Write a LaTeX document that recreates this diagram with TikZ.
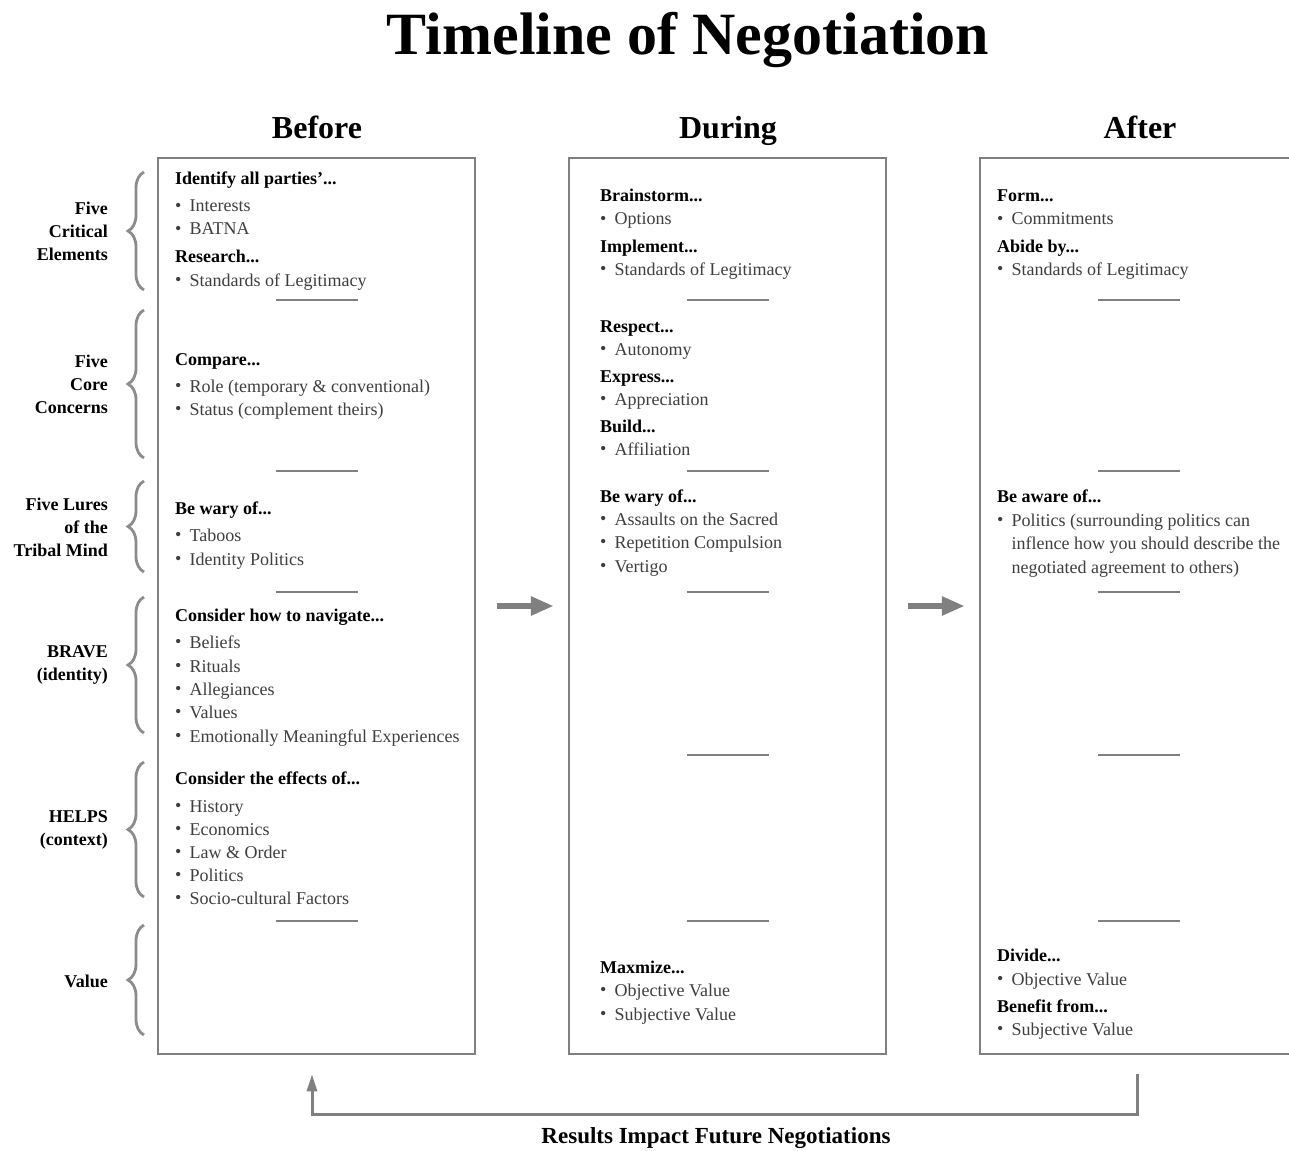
\documentclass[tikz,border=0pt]{standalone}
\usepackage{fontspec}
\setmainfont{Liberation Serif}
\usetikzlibrary{arrows.meta,decorations.pathreplacing,calc}
\definecolor{framegray}{RGB}{128,128,128}
\definecolor{bodygray}{RGB}{62,62,62}
\definecolor{bracegray}{RGB}{140,140,140}
\newcommand\tdots{...}
\newcommand\bulletmark{\makebox[14.5pt][l]{\raisebox{0.5pt}{\fontsize{18}{18}\selectfont\textbullet}}}

\begin{document}
\begin{tikzpicture}[x=1pt,y=-1pt,
  column/.style={draw=framegray, line width=2.5pt, minimum width=317pt,
    minimum height=896pt, inner sep=0pt},
  hd/.style={anchor=base west, inner sep=0pt, font=\fontsize{18}{22}\selectfont\bfseries},
  bl/.style={anchor=base west, inner sep=0pt, text=bodygray,
    font=\fontsize{18}{22}\selectfont, execute at begin node={\bulletmark}},
  cn/.style={anchor=base west, inner sep=0pt, text=bodygray,
    font=\fontsize{18}{22}\selectfont, xshift=14.5pt},
  side/.style={anchor=east, align=right, inner sep=0pt,
    font=\fontsize{18}{23}\selectfont\bfseries},
  colhead/.style={anchor=base, inner sep=0pt, font=\fontsize{32}{36}\selectfont\bfseries},
  sep/.style={draw=framegray, line width=1.5pt},
  brc/.style={draw=bracegray, line width=2.8pt, decorate,
    decoration={brace, amplitude=16pt}},
  flow/.style={draw=framegray, line width=6pt, -{Triangle[length=23pt,width=18pt]},
    shorten <=21pt, shorten >=14pt},
  loop/.style={draw=framegray, line width=3pt, -{Triangle[length=17pt,width=10pt]}}
]
\clip (0,0) rectangle (1289,1150);

% title and column headings
\node[anchor=base, inner sep=0pt, font=\fontsize{60}{66}\selectfont\bfseries]
  (title) at (688,55) {Timeline of Negotiation};
\node[colhead] (hBefore) at (317,139) {Before};
\node[colhead] (hDuring) at (728,139) {During};
\node[colhead] (hAfter) at (1140,139) {After};

% the three phase columns
\node[column] (before) at (316.5,606) {};
\node[column] (during) at (727.5,606) {};
\node[column] (after) at (1138.5,606) {};

% short rules between the topic bands
\foreach \y in {300,471,592,921}
  \draw[sep] (before.center |- 0,\y) ++(-41,0) -- ++(82,0);
\foreach \y in {300,471,592,755,921}
  \draw[sep] (during.center |- 0,\y) ++(-41,0) -- ++(82,0);
\foreach \y in {300,471,592,755,921}
  \draw[sep] (after.center |- 0,\y) ++(-41,0) -- ++(82,0);

% topic labels with braces
\node[side] (s1) at (108,231) {Five\\Critical\\Elements};
\node[side] (s2) at (108,384) {Five\\Core\\Concerns};
\node[side] (s3) at (108,527) {Five Lures\\of the\\Tribal Mind};
\node[side] (s4) at (108,665) {BRAVE\\(identity)};
\node[side] (s5) at (108,830) {HELPS\\(context)};
\node[side] (s6) at (108,981) {Value};
\draw[brc] (144,290) -- (144,172);
\draw[brc] (144,458) -- (144,310);
\draw[brc] (144,572) -- (144,481);
\draw[brc] (144,733) -- (144,597);
\draw[brc] (144,897) -- (144,762);
\draw[brc] (144,1035) -- (144,925);

% Before
\foreach \s/\y/\t [count=\i] in {
  hd/178/{Identify all parties'\tdots},
  bl/205/{Interests},
  bl/228/{BATNA},
  hd/255/{Research\tdots},
  bl/279/{Standards of Legitimacy},
  hd/358/{Compare\tdots},
  bl/385/{Role (temporary \& conventional)},
  bl/408/{Status (complement theirs)},
  hd/507/{Be wary of\tdots},
  bl/534/{Taboos},
  bl/558/{Identity Politics},
  hd/614/{Consider how to navigate\tdots},
  bl/641/{Beliefs},
  bl/665/{Rituals},
  bl/688/{Allegiances},
  bl/711/{Values},
  bl/735/{Emotionally Meaningful Experiences},
  hd/777/{Consider the effects of\tdots},
  bl/805/{History},
  bl/828/{Economics},
  bl/851/{Law \& Order},
  bl/874/{Politics},
  bl/897/{Socio-cultural Factors}}
  \node[\s] (bt\i) at (175,\y+7) {\t};

% During
\foreach \s/\y/\t [count=\i] in {
  hd/195/{Brainstorm\tdots},
  bl/218/{Options},
  hd/245/{Implement\tdots},
  bl/268/{Standards of Legitimacy},
  hd/325/{Respect\tdots},
  bl/348/{Autonomy},
  hd/375/{Express\tdots},
  bl/398/{Appreciation},
  hd/425/{Build\tdots},
  bl/448/{Affiliation},
  hd/495/{Be wary of\tdots},
  bl/518/{Assaults on the Sacred},
  bl/541/{Repetition Compulsion},
  bl/565/{Vertigo},
  hd/966/{Maxmize\tdots},
  bl/989/{Objective Value},
  bl/1013/{Subjective Value}}
  \node[\s] (dt\i) at (600,\y+7) {\t};

% After
\foreach \s/\y/\t [count=\i] in {
  hd/195/{Form\tdots},
  bl/218/{Commitments},
  hd/245/{Abide by\tdots},
  bl/268/{Standards of Legitimacy},
  hd/495/{Be aware of\tdots},
  bl/519/{Politics (surrounding politics can},
  cn/542/{inflence how you should describe the},
  cn/566/{negotiated agreement to others)},
  hd/954/{Divide\tdots},
  bl/978/{Objective Value},
  hd/1005/{Benefit from\tdots},
  bl/1028/{Subjective Value}}
  \node[\s] (at\i) at (997,\y+7) {\t};

% flow between phases and feedback loop
\draw[flow] (before.east) -- (during.west);
\draw[flow] (during.east) -- (after.west);
\draw[loop] ($(after.south)+(-1.5,19)$) -- ++(0,40) -| ($(before.south)+(-4.5,19)$);
\node[anchor=base, inner sep=0pt, font=\fontsize{23}{26}\selectfont\bfseries]
  (footer) at (716,1143) {Results Impact Future Negotiations};
\end{tikzpicture}
\end{document}
